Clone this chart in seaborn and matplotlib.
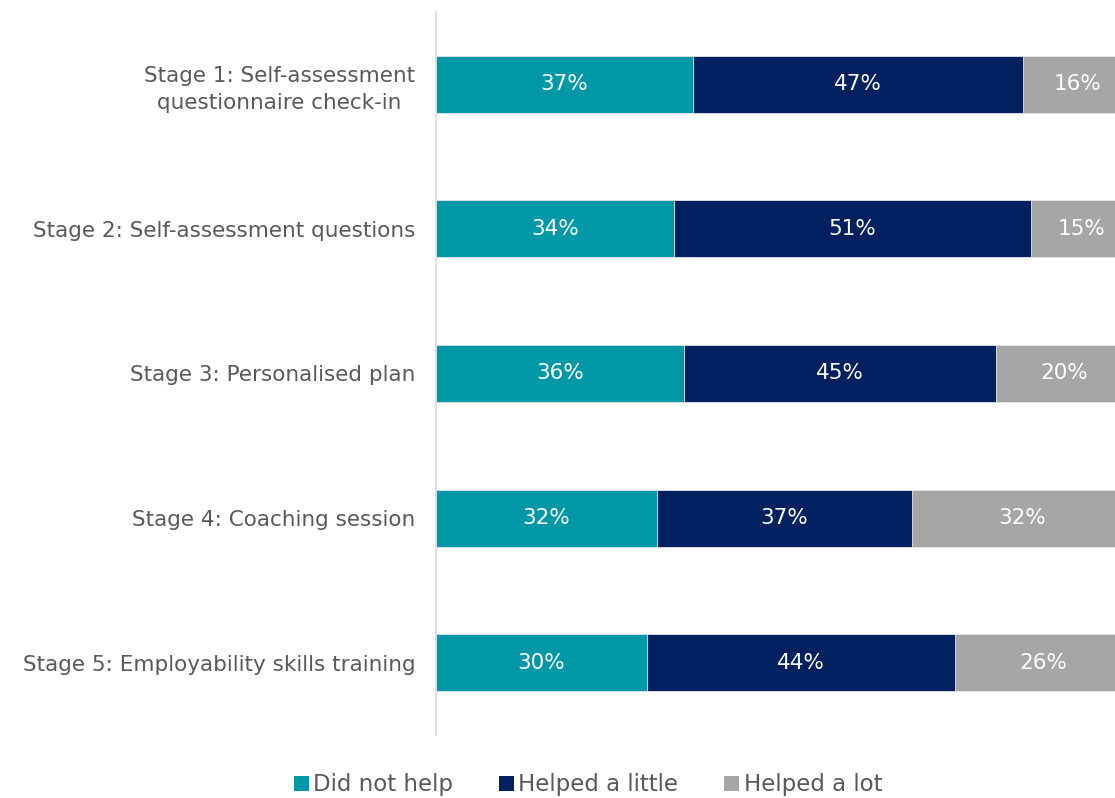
import matplotlib
matplotlib.use("Agg")
import matplotlib.pyplot as plt
from matplotlib.patches import Patch
import seaborn as sns
import pandas as pd
import numpy as np

# data
stages = ["Stage 1: Self-assessment\nquestionnaire check-in",
          "Stage 2: Self-assessment questions",
          "Stage 3: Personalised plan",
          "Stage 4: Coaching session",
          "Stage 5: Employability skills training"]
series = ["Did not help", "Helped a little", "Helped a lot"]
did_not_help = [36.9, 34.2, 35.7, 31.7, 30.3]
helped_little = [47.5, 51.3, 44.7, 36.7, 44.3]
helped_lot = [15.6, 14.5, 19.6, 31.6, 25.4]
# percentages as printed on the chart
lbl_not = [37, 34, 36, 32, 30]
lbl_little = [47, 51, 45, 37, 44]
lbl_lot = [16, 15, 20, 32, 26]

colors = ["#0097A7", "#002060", "#A6A6A6"]
text_col = "#595959"

sns.set_theme(style="white")
plt.rcParams["font.family"] = ["DejaVu Sans"]

df = pd.DataFrame({"stage": stages,
                   "Did not help": did_not_help,
                   "Helped a little": helped_little,
                   "Helped a lot": helped_lot})
cum = df[series].cumsum(axis=1)

fig = plt.figure(figsize=(11.15, 7.98), dpi=100)
ax = fig.add_axes([436 / 1115, 1 - 735 / 798, 696 / 1115, 723 / 798])

# stacked bars: draw cumulative totals back to front
for s, c in reversed(list(zip(series, colors))):
    sns.barplot(x=cum[s], y=df["stage"], orient="h", color=c,
                width=0.395, saturation=1, linewidth=0.6, edgecolor="#E6E6E6", ax=ax)

labels = [lbl_not, lbl_little, lbl_lot]
for i in range(len(stages)):
    left = 0
    for j, s in enumerate(series):
        w = df[s][i]
        ax.text(left + w / 2, i, f"{labels[j][i]}%", ha="center", va="center",
                color="white", fontsize=15.5)
        left += w

ax.set_xlim(0, 100)
ax.set_ylim(4.5, -0.5)
ax.set_xlabel("")
ax.set_ylabel("")
ax.set_xticks([])
ax.tick_params(axis="y", length=0, pad=15, labelsize=15.5, labelcolor=text_col)
for lab in ax.get_yticklabels():
    lab.set_multialignment("center")
    lab.set_linespacing(1.4)
for sp in ["top", "right", "bottom"]:
    ax.spines[sp].set_visible(False)
ax.spines["left"].set_color("#D9D9D9")
ax.spines["left"].set_linewidth(1.2)

handles = [Patch(facecolor=c, edgecolor="none", label=s) for s, c in zip(series, colors)]
fig.legend(handles=handles, loc="center", bbox_to_anchor=(588 / 1115, 1 - 785 / 798),
           ncol=3, frameon=False, fontsize=16.5, labelcolor=text_col,
           handlelength=0.65, handleheight=0.65, handletextpad=0.2, columnspacing=2.0)

fig.savefig("out.png", dpi=100)
